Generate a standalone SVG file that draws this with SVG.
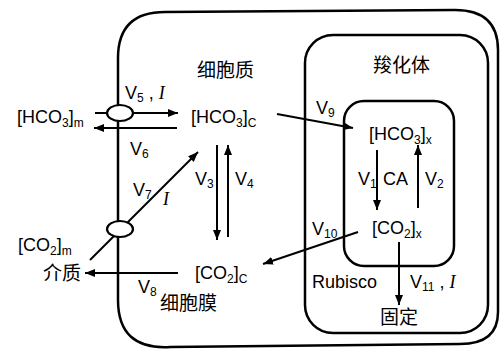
<svg xmlns="http://www.w3.org/2000/svg" width="501" height="358" viewBox="0 0 501 358">
<defs>
<style>
.box{fill:none;stroke:#000;stroke-width:2.5}
.mem{fill:#fff;stroke:#000;stroke-width:2.2}
.ln{fill:none;stroke:#000;stroke-width:2}
.ar{fill:none;stroke:#000;stroke-width:2;marker-end:url(#ah)}
text{font-family:"Liberation Sans","Noto Sans CJK SC",sans-serif;font-size:18px;fill:#000}
.cjk{font-family:"Noto Sans CJK SC","Noto Sans CJK JP",sans-serif;font-size:19px}
.sub{font-size:12px}
.it{font-family:"Liberation Serif",serif;font-style:italic}
</style>
<marker id="ah" viewBox="0 0 10 8" refX="10" refY="4" markerWidth="10" markerHeight="8" markerUnits="userSpaceOnUse" orient="auto">
<path d="M0,0 L10,4 L0,8 Z" fill="#000"/>
</marker>
</defs>
<rect width="501" height="358" fill="#fff"/>

<g id="cell">
<path class="box" d="M118,58 Q118,12 165,12 L455,10 Q498,10 498,50 L498,312 Q498,344 460,344 L170,347 Q118,350 118,300 Z"/>
<text class="cjk" x="197" y="77">细胞质</text>
<text class="cjk" x="160" y="310">细胞膜</text>
</g>

<g id="carboxysome">
<rect class="box" x="305" y="35" width="183" height="298" rx="28"/>
<text class="cjk" x="373" y="72">羧化体</text>
</g>

<g id="carboxysome-inner">
<rect class="box" x="344" y="101" width="110" height="165" rx="20"/>
</g>

<g id="connectors">
<line class="ar" x1="95" y1="113" x2="178" y2="113"/>
<line class="ar" x1="177" y1="128" x2="94" y2="128"/>
<line class="ar" x1="90" y1="260" x2="198" y2="152"/>
<line class="ar" x1="178" y1="273" x2="85" y2="273"/>
<line class="ar" x1="217" y1="145" x2="217" y2="240"/>
<line class="ar" x1="228" y1="237" x2="228" y2="145"/>
<line class="ar" x1="277" y1="114" x2="353" y2="128"/>
<line class="ar" x1="377" y1="150" x2="377" y2="210"/>
<line class="ar" x1="418" y1="208" x2="418" y2="145"/>
<line class="ar" x1="358" y1="232" x2="263" y2="264"/>
<line class="ar" x1="399" y1="242" x2="399" y2="305"/>
<text x="125" y="99">V<tspan class="sub" dy="3">5</tspan><tspan dy="-3"> , </tspan><tspan class="it">I</tspan></text>
<text x="130" y="155">V<tspan class="sub" dy="3">6</tspan></text>
<text x="133" y="196">V<tspan class="sub" dy="3">7</tspan></text>
<text class="it" x="163" y="205">I</text>
<text x="138" y="293">V<tspan class="sub" dy="3">8</tspan></text>
<text x="195" y="185">V<tspan class="sub" dy="3">3</tspan></text>
<text x="235" y="185">V<tspan class="sub" dy="3">4</tspan></text>
<text x="316" y="114">V<tspan class="sub" dy="3">9</tspan></text>
<text x="358" y="185">V<tspan class="sub" dy="3">1</tspan></text>
<text x="383" y="185">CA</text>
<text x="425" y="185">V<tspan class="sub" dy="3">2</tspan></text>
<text x="312" y="235">V<tspan class="sub" dy="3">10</tspan></text>
<text x="410" y="288">V<tspan class="sub" dy="3">11</tspan><tspan dy="-3"> , </tspan><tspan class="it">I</tspan></text>
<text x="312" y="288">Rubisco</text>
</g>

<g id="transporter-hco3">
<ellipse class="mem" cx="120" cy="113" rx="13" ry="8"/>
</g>
<g id="transporter-co2">
<ellipse class="mem" cx="120" cy="229" rx="13" ry="8"/>
</g>

<g id="hco3-m"><text x="17" y="123">[HCO<tspan class="sub" dy="4">3</tspan><tspan dy="-4">]</tspan><tspan class="sub" dy="4">m</tspan></text></g>
<g id="hco3-c"><text x="191" y="123">[HCO<tspan class="sub" dy="4">3</tspan><tspan dy="-4">]</tspan><tspan class="sub" dy="4">C</tspan></text></g>
<g id="co2-m"><text x="18" y="251">[CO<tspan class="sub" dy="4">2</tspan><tspan dy="-4">]</tspan><tspan class="sub" dy="4">m</tspan></text></g>
<g id="medium"><text class="cjk" x="43" y="280">介质</text></g>
<g id="co2-c"><text x="195" y="279">[CO<tspan class="sub" dy="4">2</tspan><tspan dy="-4">]</tspan><tspan class="sub" dy="4">C</tspan></text></g>
<g id="hco3-x"><text x="369" y="140">[HCO<tspan class="sub" dy="4">3</tspan><tspan dy="-4">]</tspan><tspan class="sub" dy="4">x</tspan></text></g>
<g id="co2-x"><text x="372" y="234">[CO<tspan class="sub" dy="4">2</tspan><tspan dy="-4">]</tspan><tspan class="sub" dy="4">x</tspan></text></g>
<g id="fixation"><text class="cjk" x="380" y="324">固定</text></g>
</svg>
